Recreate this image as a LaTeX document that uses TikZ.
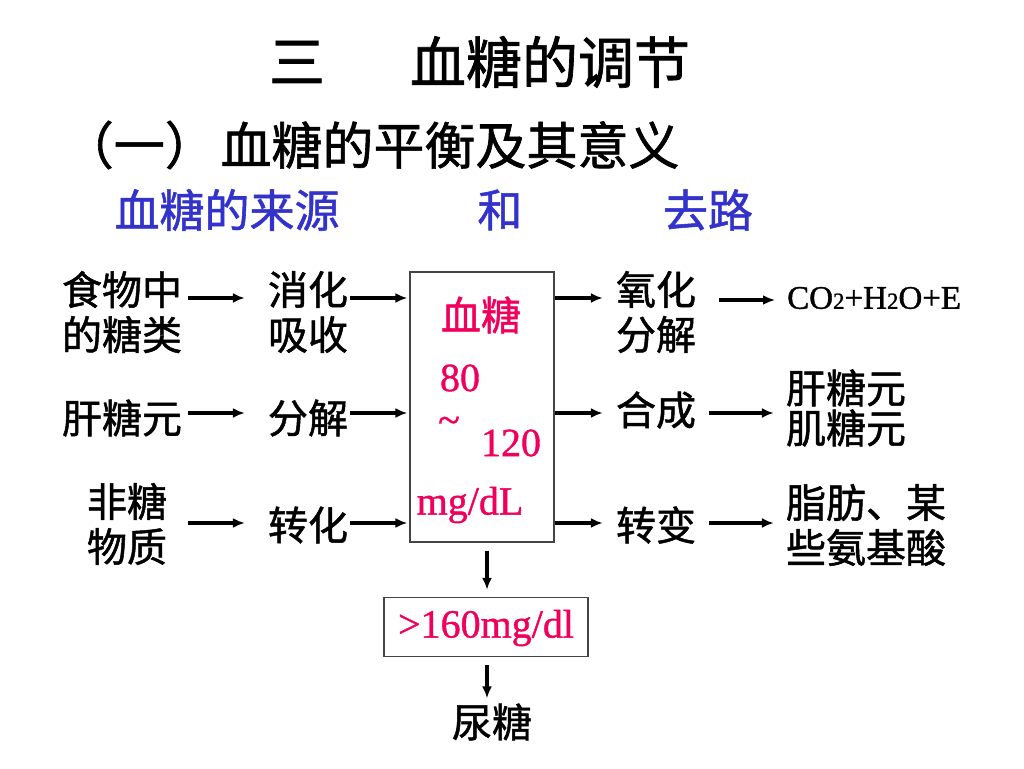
\documentclass[tikz,border=0pt]{standalone}
\usepackage{fontspec}
\setmainfont{Liberation Serif}
\newfontfamily\cjk[FakeBold=1.2]{Noto Sans CJK SC}
\newfontfamily\numfont[FakeBold=1]{Liberation Serif}
\usetikzlibrary{arrows.meta}
\definecolor{tblue}{HTML}{3333CC}
\definecolor{tpink}{HTML}{F0005C}
\definecolor{boxgray}{HTML}{444444}
\tikzset{
  cn/.style={font=\cjk\fontsize{40}{45}\selectfont, inner sep=0pt, align=center},
  cntwo/.style={font=\cjk\fontsize{40}{40}\selectfont, inner sep=0pt, align=center},
  pkcn/.style={font=\cjk\fontsize{40}{45}\selectfont, text=tpink, inner sep=0pt},
  pknum/.style={font=\numfont\fontsize{40}{44}\selectfont, text=tpink, inner sep=0pt},
  arr/.style={-{Latex[length=12pt,width=10pt]}, line width=3.6pt},
  frame/.style={draw=boxgray, line width=1.3pt, inner sep=0pt}
}
\begin{document}
\begin{tikzpicture}[x=1pt,y=-1pt]
\useasboundingbox (0,0) rectangle (1024,768);
\fill[white] (0,0) rectangle (1024,768);
% titles
\node[font=\cjk\fontsize{56}{60}\selectfont, inner sep=0pt] (t1) at (297,62) {三};
\node[font=\cjk\fontsize{56}{60}\selectfont, inner sep=0pt] (t2) at (550,62) {血糖的调节};
\node[font=\cjk\fontsize{51}{55}\selectfont, inner sep=0pt, anchor=east] (s1) at (216,145) {（一）};
\node[font=\cjk\fontsize{51}{55}\selectfont, inner sep=0pt] (s2) at (450,145) {血糖的平衡及其意义};
\node[font=\cjk\fontsize{45}{50}\selectfont, text=tblue, inner sep=0pt] (b1) at (227,210) {血糖的来源};
\node[font=\cjk\fontsize{45}{50}\selectfont, text=tblue, inner sep=0pt] (b2) at (500,210) {和};
\node[font=\cjk\fontsize{45}{50}\selectfont, text=tblue, inner sep=0pt] (b3) at (708,210) {去路};
% row coordinates
\coordinate (r1) at (0,298);
\coordinate (r1b) at (0,300);
\coordinate (r2) at (0,413);
\coordinate (r3) at (0,523);
\coordinate (cx) at (487,0);
% left
\node[cn] (food) at (122,312) {食物中\\的糖类};
\node[cn] (xh) at (308,312) {消化\\吸收};
\node[cn] (gly) at (122,418) {肝糖元};
\node[cn] (fj) at (308,418) {分解};
\node[cn] (fei) at (127,524) {非糖\\物质};
\node[cn] (zh) at (308,525) {转化};
% central box
\node[frame, minimum width=144pt, minimum height=270pt] (box) at (482,407) {};
\node[pkcn] (xt) at (481,315) {血糖};
\node[pknum] (n80) at (460,378) {80};
\node[pknum] (tl) at (449,425) {\~{}};
\node[pknum] (n120) at (511,443) {120};
\node[pknum] (unit) at (470,505) {mg/dL};
% right
\node[cn] (oh) at (656,312) {氧化\\分解};
\node[font=\numfont\fontsize{33}{38}\selectfont, inner sep=0pt, anchor=west] (co2) at (787,298) {CO{\fontsize{23}{23}\selectfont 2}+H{\fontsize{23}{23}\selectfont 2}O+E};
\node[cn] (hc) at (656,410) {合成};
\node[cntwo] (gyc) at (846,408) {肝糖元\\肌糖元};
\node[cn] (zb) at (656,525) {转变};
\node[cn] (zf) at (866,525) {脂肪、某\\些氨基酸};
% lower
\node[frame, minimum width=204pt, minimum height=59pt] (box2) at (486,627) {};
\node[pknum] (g160) at (486,628) {>160mg/dl};
\node[cn] (nt) at (492,722) {尿糖};
% arrows left
\draw[arr, shorten <=6pt, shorten >=23pt] (food.east |- r1) -- (xh.west |- r1);
\draw[arr, shorten <=2pt, shorten >=2pt] (xh.east |- r1) -- (box.west |- r1);
\draw[arr, shorten <=6pt, shorten >=23pt] (gly.east |- r2) -- (fj.west |- r2);
\draw[arr, shorten <=2pt, shorten >=2pt] (fj.east |- r2) -- (box.west |- r2);
\draw[arr, shorten <=21pt, shorten >=23pt] (fei.east |- r3) -- (zh.west |- r3);
\draw[arr, shorten <=2pt, shorten >=2pt] (zh.east |- r3) -- (box.west |- r3);
% arrows right
\draw[arr, shorten >=13pt] (box.east |- r1) -- (oh.west |- r1);
\draw[arr, shorten <=23pt, shorten >=12pt] (oh.east |- r1b) -- (co2.west |- r1b);
\draw[arr, shorten >=13pt] (box.east |- r2) -- (hc.west |- r2);
\draw[arr, shorten <=13pt, shorten >=12pt] (hc.east |- r2) -- (gyc.west |- r2);
\draw[arr, shorten >=13pt] (box.east |- r3) -- (zb.west |- r3);
\draw[arr, shorten <=13pt, shorten >=12pt] (zb.east |- r3) -- (zf.west |- r3);
% arrows down
\draw[arr, shorten <=8pt, shorten >=7pt] (box.south -| cx) -- (box2.north -| cx);
\draw[arr, shorten <=8pt, shorten >=5pt] (box2.south -| cx) -- (nt.north -| cx);
\end{tikzpicture}
\end{document}
